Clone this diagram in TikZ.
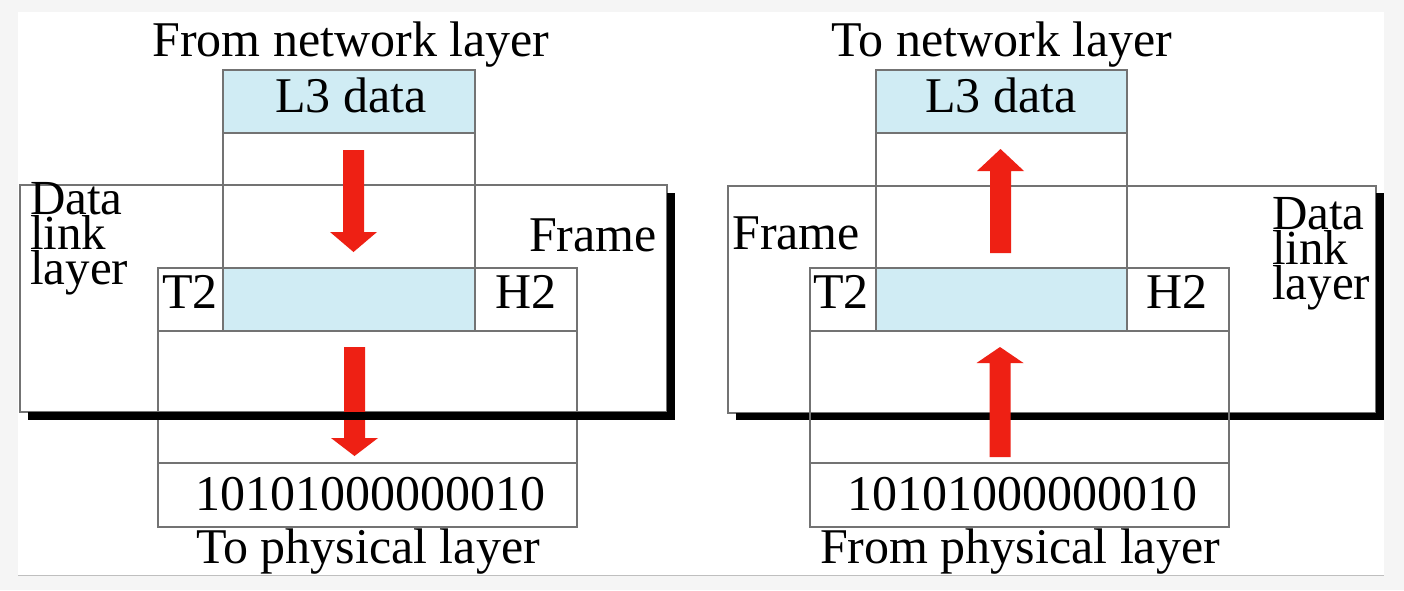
\documentclass[tikz,border=0pt]{standalone}
\usepackage{fontspec}
\setmainfont{Liberation Serif}
\definecolor{l3blue}{RGB}{208,236,244}
\definecolor{arrowred}{RGB}{238,32,20}
\definecolor{pagegray}{RGB}{245,245,245}
% block arrow: #1 = centre x, #2 = tail y, #3 = head base y, #4 = tip y
\newcommand\blockarrow[4]{%
  \fill[arrowred] ({#1-10.5},#2) -- ({#1+10.5},#2) -- ({#1+10.5},#3) -- ({#1+23.5},#3)
    -- (#1,#4) -- ({#1-23.5},#3) -- ({#1-10.5},#3) -- cycle;}
% three tightly stacked lines, baseline at the first one
\newcommand\stacklines[3]{\vtop{\baselineskip=35pt\lineskiplimit=-60pt\lineskip=0pt
  \hbox{#1}\hbox{#2}\hbox{#3}}}
\begin{document}
\begin{tikzpicture}[x=1pt,y=-1pt,
  boxline/.style={draw=black!55, line width=1.2pt},
  rect/.style={boxline, rectangle, inner sep=0pt, outer sep=0pt, anchor=north west},
  lbl/.style={font=\fontsize{50}{50}\selectfont, inner sep=0pt, anchor=base},
  tight/.style={lbl, font=\fontsize{49}{49}\selectfont, anchor=base west}]
\useasboundingbox (0,0) rectangle (1404,590);

% page
\fill[pagegray] (0,0) rectangle (1404,590);
\fill[white] (18,12) rectangle (1384,575);
\draw[black!25, line width=1pt] (18,575) -- (1384,575);

% ---------------- sending side ----------------
\node[rect, fill=white, minimum width=647, minimum height=227] (dllL) at (20,185) {};
\node[rect, minimum width=252, minimum height=261] (colL) at (223,70) {};
\node[rect, fill=l3blue, minimum width=252, minimum height=63] (l3L) at (223,70) {};
\node[rect, fill=l3blue, minimum width=252, minimum height=63] (pktL) at (223,268) {};
\node[rect, minimum width=419, minimum height=195] (frmL) at (158,268) {};
\draw[boxline] (frmL.west |- pktL.south) -- (frmL.east |- pktL.south);
\node[rect, minimum width=419, minimum height=64] (bitsL) at (158,463) {};

\blockarrow{353.5}{150}{232}{252}
\blockarrow{354.5}{347}{438}{456}

% drop shadow of the data link layer box
\fill[black] (28,412) rectangle (675,420);
\fill[black] (667,193) rectangle (675,420);

\node[lbl] (hdrL) at (351,56) {From network layer};
\node[lbl] (l3tL) at (351,112) {L3 data};
\node[tight] (dllL-text) at (30,214) {\stacklines{Data}{link}{layer}};
\node[lbl, anchor=base east] (frtL) at (657,251) {Frame};
\node[lbl] (t2L) at (190,308) {T2};
\node[lbl] (h2L) at (526,308) {H2};
\node[lbl] (bitL) at (370,510) {10101000000010};
\node[lbl] (ftL) at (368,563) {To physical layer};

% ---------------- receiving side ----------------
\node[rect, fill=white, minimum width=648, minimum height=227] (dllR) at (728,186) {};
\fill[black] (736,413) rectangle (1384,420);
\fill[black] (1376,193) rectangle (1384,420);
\node[rect, minimum width=251, minimum height=261] (colR) at (876,70) {};
\node[rect, fill=l3blue, minimum width=251, minimum height=63] (l3R) at (876,70) {};
\node[rect, fill=l3blue, minimum width=251, minimum height=63] (pktR) at (876,268) {};
\node[rect, minimum width=419, minimum height=195] (frmR) at (810,268) {};
\draw[boxline] (frmR.west |- pktR.south) -- (frmR.east |- pktR.south);
\node[rect, minimum width=419, minimum height=64] (bitsR) at (810,463) {};

\blockarrow{1000.5}{253}{171}{149}
\blockarrow{1000}{457}{363}{347}

\node[lbl] (hdrR) at (1002,56) {To network layer};
\node[lbl] (l3tR) at (1001,112) {L3 data};
\node[tight] (dllR-text) at (1272,229) {\stacklines{Data}{link}{layer}};
\node[lbl, anchor=base west] (frtR) at (732,249) {Frame};
\node[lbl] (t2R) at (841,308) {T2};
\node[lbl] (h2R) at (1177,308) {H2};
\node[lbl] (bitR) at (1022,510) {10101000000010};
\node[lbl] (ftR) at (1020,563) {From physical layer};
\end{tikzpicture}
\end{document}
